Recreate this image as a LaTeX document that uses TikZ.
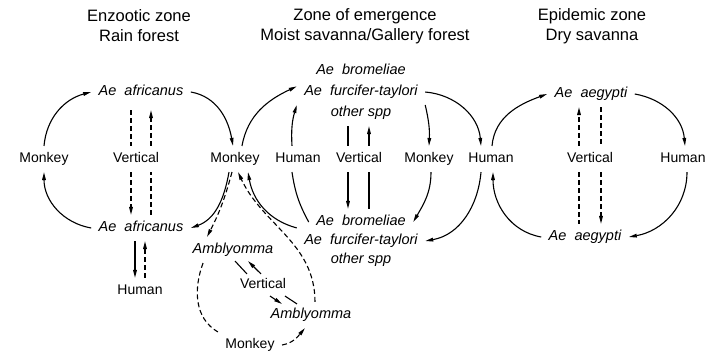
\documentclass[tikz,border=0pt]{standalone}
\usepackage{fontspec}
\setmainfont{Liberation Sans}
\usetikzlibrary{arrows.meta}

\begin{document}
\begin{tikzpicture}[
    x=1pt, y=1pt,
    line width=1.1pt,
    >={Triangle[length=8pt,width=3.6pt]},
    lbl/.style={font=\fontsize{14}{16}\selectfont, inner xsep=7pt, inner ysep=6pt, text height=10pt, text depth=3pt},
    spp/.style={lbl, font=\fontsize{14.5}{16}\selectfont\itshape},
    zone/.style={font=\fontsize{16.5}{20}\selectfont, align=center},
    dsh/.style={dash pattern=on 5pt off 3pt}
]

    % Canvas
    \fill[white] (0,0) rectangle (713,-354);
    \useasboundingbox (0,0) rectangle (713,-354);

    % Zone headings
    \node[zone] (hEnz) at (139,-26) {Enzootic zone\\Rain forest};
    \node[zone] (hEme) at (365,-26) {Zone of emergence\\Moist savanna/Gallery forest};
    \node[zone] (hEpi) at (592,-26) {Epidemic zone\\Dry savanna};

    % Enzootic cycle
    \node[spp] (afrT) at (141,-92) {Ae~~africanus};
    \node[lbl] (monL) at (44,-159) {Monkey};
    \node[lbl] (verL) at (136,-159) {Vertical};
    \node[lbl] (monM) at (235,-159) {Monkey};
    \node[spp] (afrB) at (141,-228) {Ae~~africanus};
    \node[lbl] (humL) at (140,-291) {Human};

    \draw[->] (monL.north) to[out=85,in=195] (afrT.west);
    \draw[->] (afrT.east) to[out=-10,in=100] ([xshift=-2]monM.north);
    \draw[->] ([xshift=-6]monM.south) to[out=-100,in=20] (afrB.east);
    \draw[->] (afrB.west) to[out=170,in=-90] (monL.south);

    \draw[dsh] ([xshift=-10,yshift=-5]afrT.south) -- ([xshift=-10]afrT.south |- verL.north);
    \draw[dsh,->] ([xshift=10]afrT.south |- verL.north) -- ([xshift=10,yshift=-5]afrT.south);
    \draw[dsh,->] ([xshift=-10]afrB.north |- verL.south) -- ([xshift=-10]afrB.north);
    \draw[dsh] ([xshift=10]afrB.north) -- ([xshift=10]afrB.north |- verL.south);

    \draw[->] ([xshift=-5]humL.north |- afrB.south) -- ([xshift=-5]humL.north);
    \draw[dsh,->] ([xshift=5]humL.north) -- ([xshift=5]humL.north |- afrB.south);

    % Emergence cycle
    \node[spp] (bromT) at (361,-71) {Ae~~bromeliae};
    \node[spp] (furcT) at (361,-92) {Ae~~furcifer-taylori};
    \node[spp] (othT) at (361,-113) {other spp};
    \node[lbl] (humM) at (298,-159) {Human};
    \node[lbl] (verM) at (359,-159) {Vertical};
    \node[lbl] (monR) at (429,-159) {Monkey};
    \node[lbl] (humR) at (491,-159) {Human};
    \node[spp] (bromB) at (361,-222) {Ae~~bromeliae};
    \node[spp] (furcB) at (361,-241) {Ae~~furcifer-taylori};
    \node[spp] (othB) at (361,-260) {other spp};

    \draw[->] ([xshift=7]monM.north) to[out=80,in=205] (furcT.175);
    \draw[->] ([xshift=-6]humM.north) to[bend left=10] (furcT.south west);
    \draw[->] (furcT.south east) to[bend left=8] (monR.north);
    \draw[->] (furcT.east) to[out=-5,in=95] ([xshift=-10]humR.north);

    \draw ([xshift=-11]verM.north) -- ([xshift=-11]verM.north |- othT.south);
    \draw[->] ([xshift=10]verM.north) -- ([xshift=10]verM.north |- othT.south);
    \draw[->] ([xshift=-11]verM.south) -- ([xshift=-11]verM.south |- bromB.north);
    \draw ([xshift=10]verM.south) -- ([xshift=10]verM.south |- bromB.north);

    \draw ([xshift=-6]humM.south) to[bend right=10] (bromB.west);
    \draw[->] (furcB.north west) to[out=165,in=-80] ([xshift=13]monM.south);
    \draw[->] ([xshift=2]monR.south) to[out=-90,in=60] (bromB.east);
    \draw[->] ([xshift=-10]humR.south) to[out=-95,in=10] (furcB.east);

    % Epidemic cycle
    \node[spp] (aegT) at (591,-94) {Ae~~aegypti};
    \node[lbl] (verR) at (590,-159) {Vertical};
    \node[lbl] (humRR) at (683,-159) {Human};
    \node[spp] (aegB) at (585,-237) {Ae~~aegypti};

    \draw[->] ([xshift=1]humR.north) to[out=85,in=200] (aegT.west);
    \draw[->] (aegT.east) to[out=-10,in=95] ([xshift=2]humRR.north);
    \draw[->] ([xshift=4]humRR.south) to[out=-90,in=10] (aegB.east);
    \draw[->] (aegB.west) to[out=170,in=-90] ([xshift=2]humR.south);

    \draw[dsh,->] ([xshift=-11]verR.north) -- ([xshift=-11]verR.north |- aegT.south);
    \draw[dsh] ([xshift=11]verR.north |- aegT.south) -- ([xshift=11]verR.north);
    \draw[dsh] ([xshift=-11]verR.south) -- ([xshift=-11]verR.south |- aegB.north);
    \draw[dsh,->] ([xshift=11]verR.south) -- ([xshift=11]verR.south |- aegB.north);

    % Tick cycle (Amblyomma)
    \node[spp] (ambU) at (233,-250) {Amblyomma};
    \node[lbl] (verA) at (263,-285) {Vertical};
    \node[spp] (ambL) at (311,-315) {Amblyomma};
    \node[lbl] (monB) at (250,-345) {Monkey};

    \draw[dsh,->] ([xshift=-3]monM.south) to[bend left=6] ([xshift=-26]ambU.north);
    \draw[dsh,->] ([xshift=4]ambL.north) to[out=90,in=-65] ([xshift=3]monM.south);
    \draw[dsh] ([xshift=-30]ambU.south) to[out=-110,in=150] (monB.north west);
    \draw[dsh,->] (monB.east) to[out=10,in=-130] ([xshift=-6]ambL.south);

    \draw ([xshift=2,yshift=2]ambU.south) -- ([xshift=-16,yshift=-2]verA.north);
    \draw[->] ([xshift=-2,yshift=-2]verA.north) -- ([xshift=15,yshift=2]ambU.south);
    \draw[->] ([xshift=7,yshift=2]verA.south) -- ([xshift=-29,yshift=-2]ambL.north);
    \draw ([xshift=22,yshift=2]verA.south) -- ([xshift=-14,yshift=-2]ambL.north);

\end{tikzpicture}
\end{document}
